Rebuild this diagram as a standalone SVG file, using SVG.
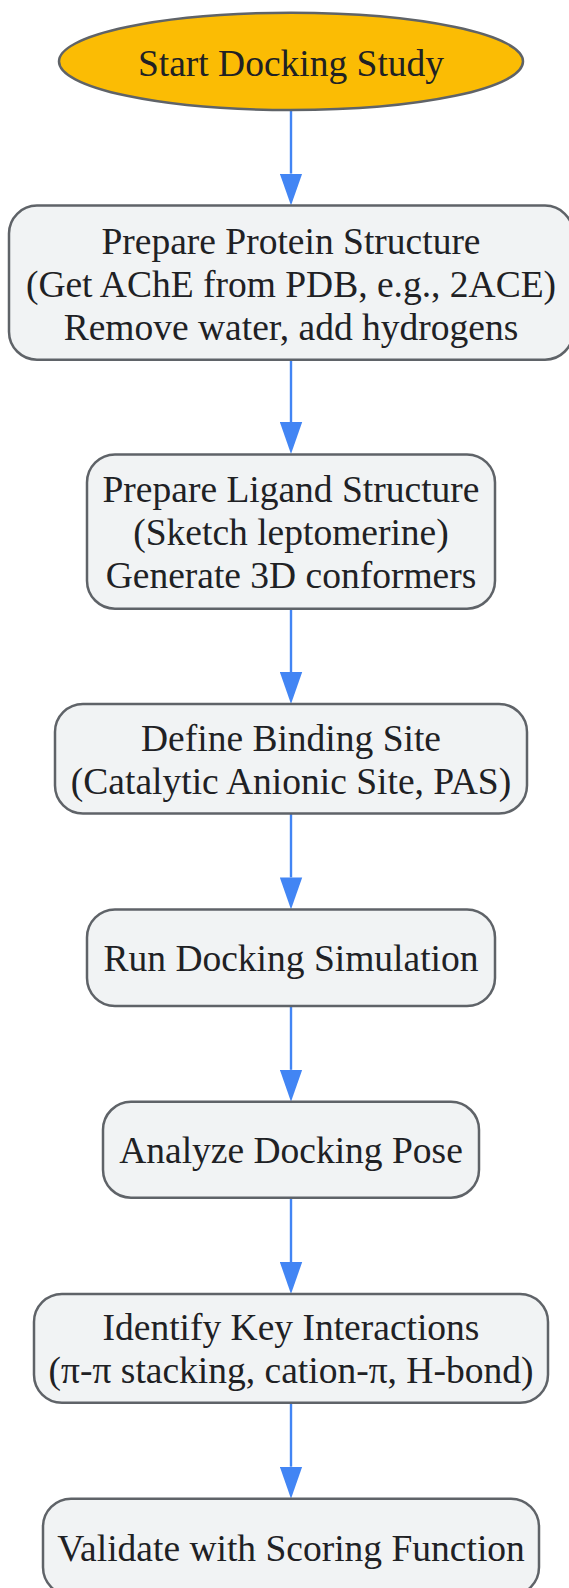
<svg xmlns="http://www.w3.org/2000/svg" width="569" height="1588" viewBox="0 0 569 1588">
<style>
.node{fill:#f1f3f4;stroke:#5f6368;stroke-width:2.5}
.start{fill:#fbbc04;stroke:#5f6368;stroke-width:2.5}
.lbl{font-family:"Liberation Serif","Times New Roman",serif;font-size:37.5px;fill:#202124;text-anchor:middle}
.edge{stroke:#4285f4;stroke-width:2.4;fill:none}
</style>
<defs>
<marker id="ah" markerUnits="userSpaceOnUse" markerWidth="32" markerHeight="23" viewBox="0 0 32 22.4" refX="0" refY="11.2" orient="auto">
<path d="M0,0 L32,11.2 L0,22.4 z" fill="#4285f4"/>
</marker>
</defs>
<rect width="569" height="1588" fill="#ffffff"/>
<g id="edges">
<path class="edge" d="M291,110 V173.6" marker-end="url(#ah)"/>
<path class="edge" d="M291,359.7 V422" marker-end="url(#ah)"/>
<path class="edge" d="M291,608.7 V672" marker-end="url(#ah)"/>
<path class="edge" d="M291,813.5 V877.4" marker-end="url(#ah)"/>
<path class="edge" d="M291,1006 V1069.8" marker-end="url(#ah)"/>
<path class="edge" d="M291,1197.7 V1262" marker-end="url(#ah)"/>
<path class="edge" d="M291,1402.8 V1466.7" marker-end="url(#ah)"/>
</g>
<g id="start">
<ellipse class="start" cx="291" cy="61.4" rx="232" ry="48.6"/>
<text class="lbl" x="291" y="75.5">Start Docking Study</text>
</g>
<g id="prepare-protein">
<rect class="node" x="9" y="205.6" width="564" height="154.1" rx="28"/>
<text class="lbl" x="291" y="253.6">Prepare Protein Structure</text>
<text class="lbl" x="291" y="296.6">(Get AChE from PDB, e.g., 2ACE)</text>
<text class="lbl" x="291" y="339.6">Remove water, add hydrogens</text>
</g>
<g id="prepare-ligand">
<rect class="node" x="87" y="454.5" width="408" height="154.2" rx="28"/>
<text class="lbl" x="291" y="502">Prepare Ligand Structure</text>
<text class="lbl" x="291" y="545">(Sketch leptomerine)</text>
<text class="lbl" x="291" y="588">Generate 3D conformers</text>
</g>
<g id="binding-site">
<rect class="node" x="55" y="704" width="472" height="109.5" rx="28"/>
<text class="lbl" x="291" y="750.6">Define Binding Site</text>
<text class="lbl" x="291" y="793.6">(Catalytic Anionic Site, PAS)</text>
</g>
<g id="run-docking">
<rect class="node" x="87" y="909.4" width="408" height="96.6" rx="28"/>
<text class="lbl" x="291" y="971.3">Run Docking Simulation</text>
</g>
<g id="analyze-pose">
<rect class="node" x="103" y="1101.8" width="376" height="95.9" rx="28"/>
<text class="lbl" x="291" y="1163.2">Analyze Docking Pose</text>
</g>
<g id="interactions">
<rect class="node" x="34" y="1294" width="514" height="108.8" rx="28"/>
<text class="lbl" x="291" y="1340.2">Identify Key Interactions</text>
<text class="lbl" x="291" y="1383.2">(π-π stacking, cation-π, H-bond)</text>
</g>
<g id="validate">
<rect class="node" x="43" y="1498.7" width="496" height="96.6" rx="28"/>
<text class="lbl" x="291" y="1560.8">Validate with Scoring Function</text>
</g>
</svg>
